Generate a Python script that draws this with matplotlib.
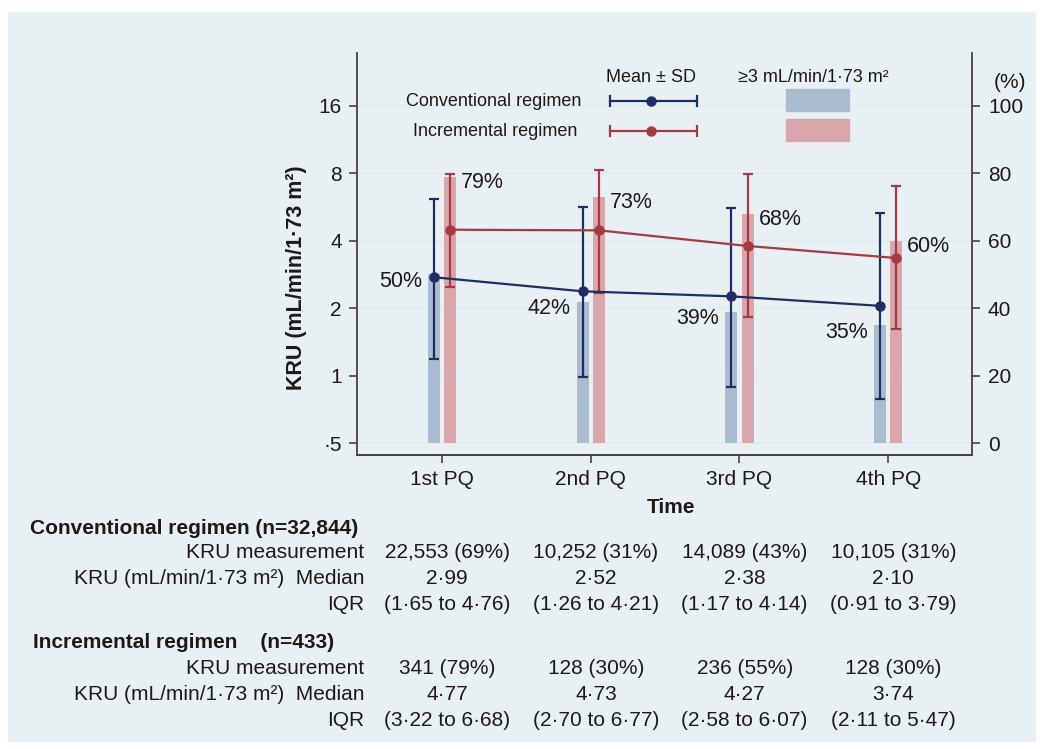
import matplotlib.pyplot as plt
import matplotlib.transforms as mtransforms
from matplotlib.patches import Rectangle
from matplotlib.lines import Line2D
from matplotlib.ticker import NullLocator
import numpy as np

plt.rcParams['font.family'] = ['Liberation Sans', 'DejaVu Sans']

quarters = ['1st PQ', '2nd PQ', '3rd PQ', '4th PQ']

# KRU mean and +/- SD limits
conv_mean = [2.75, 2.38, 2.26, 2.05]
conv_upper = [6.15, 5.68, 5.62, 5.34]
conv_lower = [1.19, 0.99, 0.89, 0.79]
incr_mean = [4.48, 4.45, 3.79, 3.35]
incr_upper = [7.95, 8.25, 7.95, 7.00]
incr_lower = [2.50, 2.35, 1.82, 1.62]

# share of patients with KRU >= 3 (%)
conv_pct = [50, 42, 39, 35]
incr_pct = [79, 73, 68, 60]

# table under the chart
conv_n_meas = [22553, 10252, 14089, 10105]
conv_meas_pct = [69, 31, 43, 31]
conv_median = [2.99, 2.52, 2.38, 2.10]
conv_q1 = [1.65, 1.26, 1.17, 0.91]
conv_q3 = [4.76, 4.21, 4.14, 3.79]
incr_n_meas = [341, 128, 236, 128]
incr_meas_pct = [79, 30, 55, 30]
incr_median = [4.77, 4.73, 4.27, 3.74]
incr_q1 = [3.22, 2.70, 2.58, 2.11]
incr_q3 = [6.68, 6.77, 6.07, 5.47]

navy = '#1f2d64'
maroon = '#a33a44'
navy_bar = '#aabdd0'
maroon_bar = '#d9a6ac'
panel = '#e9f0f3'
grid = '#e0ecf1'
spine = '#444444'
ink = '#1a1a1a'

W, H = 1041, 749
fig = plt.figure(figsize=(W / 100, H / 100), dpi=100)
fig.patch.set_facecolor('white')


def fx(px):
    return px / W


def fy(py):
    return 1 - py / H


def dec(v):
    return f'{v:.2f}'.replace('.', '·')


fig.patches.append(Rectangle((fx(8), fy(741)), fx(1035) - fx(8), fy(12) - fy(741),
                             transform=fig.transFigure, color=panel, zorder=0))

ax = fig.add_axes([fx(357), fy(455), fx(972) - fx(357), fy(53) - fy(455)])
ax2 = ax.twinx()
ax.set_zorder(2)
ax2.set_zorder(1)
ax.patch.set_visible(False)
ax2.patch.set_facecolor('white')

x = np.arange(len(quarters))
off = 0.055
bw = 0.08

# bars on the percent (right) axis
ax2.bar(x - off, conv_pct, width=bw, color=navy_bar, zorder=2)
ax2.bar(x + off, incr_pct, width=bw, color=maroon_bar, zorder=2)
ax2.set_ylim(-3.46, 115.6)
ax2.set_yticks([0, 20, 40, 60, 80, 100])
ax2.set_axisbelow(True)
ax2.yaxis.grid(True, color=grid, lw=1.2)
for i in range(len(x)):
    ax2.annotate(f'{conv_pct[i]}%', (x[i] - off - bw / 2, conv_pct[i]), xytext=(-6, -7),
                 textcoords='offset pixels', ha='right', va='center', fontsize=15.5, color=ink)
    ax2.annotate(f'{incr_pct[i]}%', (x[i] + off + bw / 2, incr_pct[i]), xytext=(5, -6),
                 textcoords='offset pixels', ha='left', va='center', fontsize=15.5, color=ink)

# mean +/- SD on the log (left) axis
for xs, m, lo, up, c in [(x - off, conv_mean, conv_lower, conv_upper, navy),
                         (x + off, incr_mean, incr_lower, incr_upper, maroon)]:
    m = np.array(m)
    yerr = [m - np.array(lo), np.array(up) - m]
    ax.errorbar(xs, m, yerr=yerr, fmt='-o', color=c, ms=6.5, lw=1.6,
                elinewidth=1.6, capsize=3.5, capthick=1.6, zorder=3)

ax.set_yscale('log', base=2)
ax.set_ylim(2 ** -1.173, 2 ** 4.78)
ax.set_yticks([0.5, 1, 2, 4, 8, 16])
ax.set_yticklabels(['·5', '1', '2', '4', '8', '16'])
ax.yaxis.set_minor_locator(NullLocator())
ax.set_xlim(-0.572, 3.564)
ax.set_xticks(x)
ax.set_xticklabels(quarters)

for a in (ax, ax2):
    a.spines['top'].set_visible(False)
    for s in a.spines.values():
        s.set_color(spine)
        s.set_linewidth(1.3)
    a.tick_params(colors=spine, labelcolor=ink, labelsize=15, length=6, width=1.2)
ax.spines['right'].set_visible(False)
ax2.spines['left'].set_visible(False)
ax.tick_params(axis='y', pad=5)
ax.tick_params(axis='x', pad=5)
ax2.tick_params(axis='y', pad=5.5)

ax.set_xlabel('Time', fontsize=15, fontweight='bold', color=ink)
ax.xaxis.set_label_coords(0.51, -0.107)
ax.set_ylabel('KRU (mL/min/1·73 m²)', fontsize=15.5, fontweight='bold', color=ink)
ax.yaxis.set_label_coords(-0.082, 0.44)
fig.text(fx(1010), fy(83), '(%)', ha='center', va='center', fontsize=15, color=ink)

# legend
lfs = 13
fig.text(fx(651), fy(78), 'Mean ± SD', ha='center', va='center', fontsize=lfs, color=ink)
fig.text(fx(813), fy(78), '≥3 mL/min/1·73 m²', ha='center', va='center', fontsize=lfs, color=ink)
for label, c, bc, ly, lx in [('Conventional regimen', navy, navy_bar, 101, 581),
                             ('Incremental regimen', maroon, maroon_bar, 131, 577)]:
    fig.text(fx(lx), fy(ly), label, ha='right', va='center', fontsize=lfs, color=ink)
    fig.lines.append(Line2D([fx(610), fx(697)], [fy(ly), fy(ly)], color=c, lw=1.6,
                            transform=fig.transFigure))
    for cx in (610, 697):
        fig.lines.append(Line2D([fx(cx), fx(cx)], [fy(ly - 5), fy(ly + 5)], color=c, lw=1.6,
                                transform=fig.transFigure))
    fig.lines.append(Line2D([fx(651)], [fy(ly)], marker='o', ms=6.5, color=c,
                            transform=fig.transFigure))
    fig.patches.append(Rectangle((fx(786), fy(ly + 10)), fx(849) - fx(786), fy(ly - 12) - fy(ly + 10),
                                 transform=fig.transFigure, color=bc))

# table
trans = mtransforms.blended_transform_factory(ax.transData, fig.transFigure)
cols = x + 0.035
tfs = 15
fig.text(fx(30), fy(528), 'Conventional regimen (n=32,844)', ha='left', va='center',
         fontsize=tfs, fontweight='bold', color=ink)
fig.text(fx(33), fy(642), 'Incremental regimen    (n=433)', ha='left', va='center',
         fontsize=tfs, fontweight='bold', color=ink)

blocks = [(553, conv_n_meas, conv_meas_pct, conv_median, conv_q1, conv_q3),
          (668, incr_n_meas, incr_meas_pct, incr_median, incr_q1, incr_q3)]
for y0, n, pct, med, q1, q3 in blocks:
    rows = [(y0, 'KRU measurement', [f'{n[i]:,} ({pct[i]}%)' for i in range(4)]),
            (y0 + 26, 'KRU (mL/min/1·73 m²)  Median', [dec(v) for v in med]),
            (y0 + 52, 'IQR', [f'({dec(q1[i])} to {dec(q3[i])})' for i in range(4)])]
    for ry, label, vals in rows:
        fig.text(fx(364), fy(ry), label, ha='right', va='center', fontsize=tfs, color=ink)
        for cx, v in zip(cols, vals):
            fig.text(cx, fy(ry), v, transform=trans, ha='center', va='center',
                     fontsize=tfs, color=ink)

fig.savefig('out.png', dpi=100)
